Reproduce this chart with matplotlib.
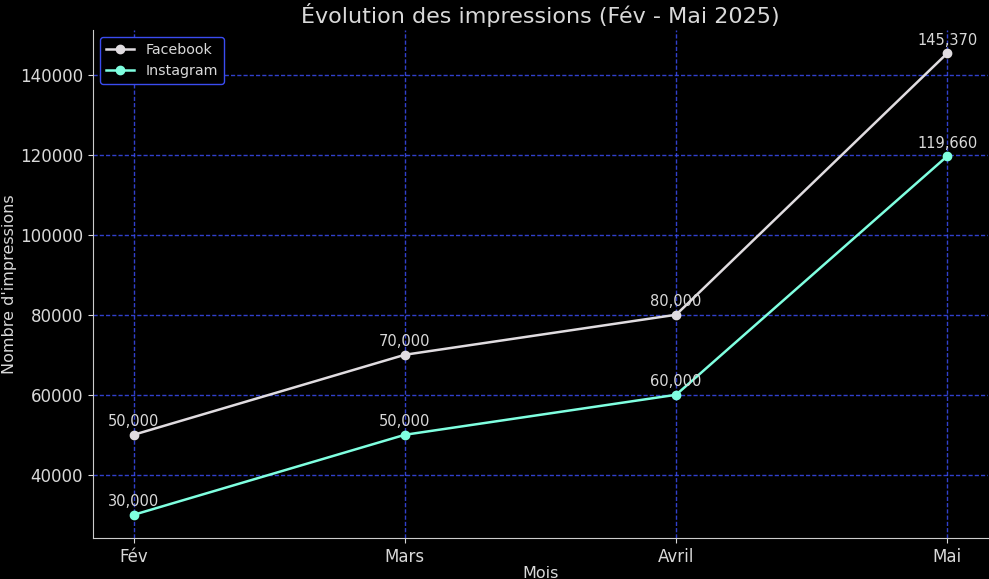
import matplotlib
matplotlib.use("Agg")
import matplotlib.pyplot as plt

mois = ["Fév", "Mars", "Avril", "Mai"]
facebook = [50000, 70000, 80000, 145370]
instagram = [30000, 50000, 60000, 119660]

TXT = "#d9d9d9"
GRID = "#3a4cf0"

plt.style.use("dark_background")
fig = plt.figure(figsize=(9.89, 5.79), dpi=100)
ax = fig.add_axes([0.094, 0.071, 0.905, 0.877])

ax.plot(mois, facebook, "-o", color="#e0dce0", lw=1.8, ms=6, label="Facebook")
ax.plot(mois, instagram, "-o", color="#7fffe0", lw=1.8, ms=6, label="Instagram")

for serie in (facebook, instagram):
    for i, v in enumerate(serie):
        ax.annotate(f"{v:,}", (i, v), textcoords="offset points", xytext=(0, 6),
                    ha="center", color=TXT, fontsize=10.5)

ax.set_title("Évolution des impressions (Fév - Mai 2025)", fontsize=16, color=TXT, pad=5)
ax.set_xlabel("Mois", fontsize=11.5, color=TXT, labelpad=0)
ax.set_ylabel("Nombre d'impressions", fontsize=11.5, color=TXT, labelpad=2)
ax.tick_params(colors=TXT, labelsize=12)
ax.grid(True, color=GRID, linestyle=(0, (3, 1.5)), linewidth=1.0, alpha=0.85)
for s in ("top", "right"):
    ax.spines[s].set_visible(False)
for s in ("left", "bottom"):
    ax.spines[s].set_color("#cccccc")

leg = ax.legend(loc="upper left", fontsize=10.3, facecolor="black", edgecolor=GRID,
                labelcolor=TXT, framealpha=1)

fig.savefig("out.png", dpi=100, facecolor="black")
